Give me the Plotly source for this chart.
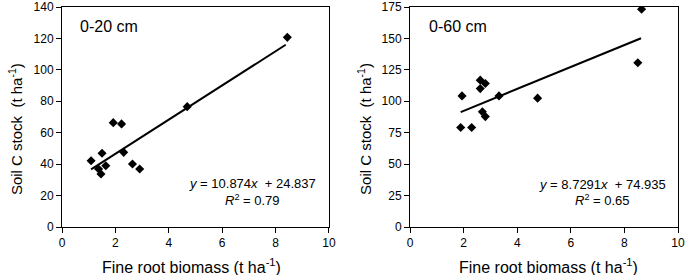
import plotly.graph_objects as go

# Data
x_0_20 = [8.44, 4.69, 1.92, 2.23, 1.09, 1.50, 2.31, 1.37, 1.64, 1.46, 2.64, 2.91]
y_0_20 = [120.7, 76.6, 66.4, 65.6, 42.2, 46.9, 47.5, 36.9, 39.0, 33.7, 40.1, 36.9]
x_0_60 = [8.64, 8.50, 1.94, 1.89, 2.30, 2.62, 2.62, 2.81, 2.70, 2.81, 3.32, 4.76]
y_0_60 = [173.3, 130.6, 104.3, 79.1, 79.1, 116.8, 110.1, 114.1, 91.6, 87.8, 104.3, 102.5]

fit_0_20 = (10.874, 24.837)
fit_0_60 = (8.7291, 74.935)
range_0_20 = [1.09, 8.38]
range_0_60 = [1.89, 8.62]

panel_labels = ["0-20 cm", "0-60 cm"]
eq_texts = ["<i>y</i> = 10.874<i>x</i>  + 24.837", "<i>y</i> = 8.7291<i>x</i>  + 74.935"]
r2_texts = ["<i>R</i><sup>2</sup> = 0.79", "<i>R</i><sup>2</sup> = 0.65"]
x_title = "Fine root biomass (t ha<sup>-1</sup>)"
y_title = "Soil C stock  (t ha<sup>-1</sup>)"

FONT = "Liberation Sans, Arial, sans-serif"

fig = go.Figure()

def add_panel(xs, ys, fit, xr, xa, ya):
    fig.add_trace(go.Scatter(x=xs, y=ys, mode="markers", xaxis=xa, yaxis=ya,
                             marker=dict(symbol="diamond", color="black", size=7),
                             showlegend=False))
    fx = xr
    fy = [fit[0] * v + fit[1] for v in fx]
    fig.add_trace(go.Scatter(x=fx, y=fy, mode="lines", xaxis=xa, yaxis=ya,
                             line=dict(color="black", width=2), showlegend=False))

add_panel(x_0_20, y_0_20, fit_0_20, range_0_20, "x", "y")
add_panel(x_0_60, y_0_60, fit_0_60, range_0_60, "x2", "y2")

axis_common = dict(showgrid=False, zeroline=False, showline=True, linecolor="black",
                   linewidth=1, mirror=True, ticks="outside", ticklen=5, automargin=False,
                   tickcolor="black", tickfont=dict(family=FONT, size=12, color="black"))

fig.update_layout(
    width=685, height=275,
    margin=dict(l=62, r=7, t=7, b=48),
    paper_bgcolor="white", plot_bgcolor="white",
    font=dict(family=FONT, color="black"),
    xaxis=dict(domain=[0, 0.4334], range=[0, 10], dtick=2, **axis_common),
    yaxis=dict(range=[0, 140], dtick=20, **axis_common),
    xaxis2=dict(domain=[0.565, 1], range=[0, 10], dtick=2, anchor="y2", **axis_common),
    yaxis2=dict(range=[0, 175], dtick=25, anchor="x2", **axis_common),
)

# panel labels
for xr_, yr_, i, px in [("x domain", "y domain", 0, 0.06), ("x2 domain", "y2 domain", 1, 0.063)]:
    fig.add_annotation(x=px, y=0.911, xref=xr_, yref=yr_, text=panel_labels[i],
                       showarrow=False, xanchor="left", yanchor="middle",
                       font=dict(family=FONT, size=16, color="black"))

# equations (data coordinates)
eq_pos = [("x", "y", 7.15, 28.0, 17.2), ("x2", "y2", 7.18, 34.2, 21.5)]
for i, (xa, ya, ex, ey, ry) in enumerate(eq_pos):
    fig.add_annotation(x=ex, y=ey, xref=xa, yref=ya, text=eq_texts[i], showarrow=False,
                       xanchor="center", yanchor="middle",
                       font=dict(family=FONT, size=13, color="black"))
    fig.add_annotation(x=ex, y=ry, xref=xa, yref=ya, text=r2_texts[i], showarrow=False,
                       xanchor="center", yanchor="middle",
                       font=dict(family=FONT, size=13, color="black"))

# axis titles
for px in [0.211, 0.789]:
    fig.add_annotation(x=px, y=-0.175, xref="paper", yref="paper", text=x_title,
                       showarrow=False, xanchor="center", yanchor="middle",
                       font=dict(family=FONT, size=16, color="black"))
for px in [-0.0763, 0.490]:
    fig.add_annotation(x=px, y=0.445, xref="paper", yref="paper", text=y_title,
                       showarrow=False, xanchor="center", yanchor="middle", textangle=-90,
                       font=dict(family=FONT, size=15, color="black"))

fig.write_html("out.html", config={"displayModeBar": False},
               post_script="document.body.style.margin='0';document.body.style.overflow='hidden';")
